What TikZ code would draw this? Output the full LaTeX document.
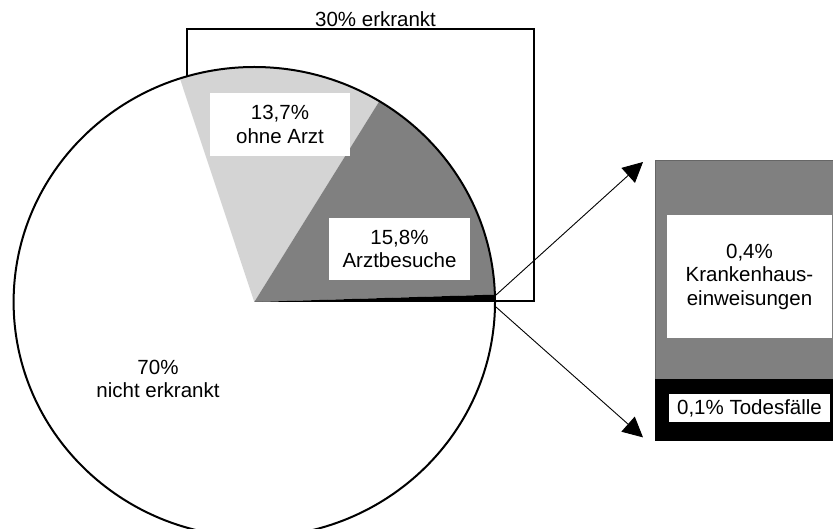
\documentclass[tikz,border=0pt]{standalone}
\usepackage{fontspec}
\setmainfont{Liberation Sans}
\usetikzlibrary{arrows.meta,calc}
\begin{document}
\begin{tikzpicture}[x=1pt,y=1pt,
  lbl/.style={fill=white, inner sep=0pt, align=center, font=\fontsize{20.5}{23.5}\selectfont},
  txt/.style={inner sep=0pt, align=center, font=\fontsize{20.5}{23.5}\selectfont},
  conn/.style={line width=0.9pt, -{Triangle[length=20pt,width=20pt]}},
  rim/.style={line width=2pt},
  frame/.style={draw, line width=1.8pt, inner sep=0pt}]
\useasboundingbox (0,0) rectangle (833,528);
\clip (0,0) rectangle (833,528);
\coordinate (C) at (254.3,226);
% 30% frame
\node[frame, minimum width=347pt, minimum height=272pt, anchor=south east] (erk) at (535,226) {};
\node[txt, anchor=base west] (erklbl) at (315,501.5) {30\% erkrankt};
% pie
\fill[white] (C) ellipse[x radius=240.7pt, y radius=235pt];
\fill[black!17] (C) -- ($(C)+(58.7:240.7pt and 235pt)$) arc[start angle=58.7, end angle=108, x radius=240.7pt, y radius=235pt] -- cycle;
\fill[black!50] (C) -- ($(C)+(1.8:240.7pt and 235pt)$) arc[start angle=1.8, end angle=58.7, x radius=240.7pt, y radius=235pt] -- cycle;
\fill[black] (C) -- ($(C)+(0:240.7pt and 235pt)$) arc[start angle=0, end angle=1.8, x radius=240.7pt, y radius=235pt] -- cycle;
\draw[rim] (C) ellipse[x radius=240.7pt, y radius=235pt];
% pie labels
\node[lbl, minimum width=140pt, minimum height=63pt] (ohne) at (280,403.5) {13,7\%\\ohne Arzt};
\node[lbl, minimum width=141pt, minimum height=62pt] (arzt) at (399.5,279) {15,8\%\\Arztbesuche};
\node[txt] (nicht) at (158,149) {70\%\\nicht erkrankt};
% right boxes
\node[fill=black!50, draw=black!60, minimum width=178pt, minimum height=219pt, inner sep=0pt, anchor=north west] (kbox) at (655,368) {};
\node[fill=black, minimum width=178pt, minimum height=62pt, inner sep=0pt, anchor=north west] (tbox) at (655,149) {};
\node[lbl, minimum width=165pt, minimum height=123pt] (klbl) at (749.5,251.5) {0,4\%\\Krankenhaus-\\einweisungen};
\node[lbl, minimum width=161pt, minimum height=28pt] (tlbl) at (749.5,120) {0,1\% Todesfälle};
% connectors
\coordinate (s1) at (496,233);
\coordinate (s2) at (496,221);
\coordinate (e1) at ($(kbox.north west)+(-12,-2)$);
\coordinate (e2) at ($(tbox.south west)+(-12,4)$);
\draw[conn] (s1) -- (e1);
\draw[conn] (s2) -- (e2);
\end{tikzpicture}
\end{document}
